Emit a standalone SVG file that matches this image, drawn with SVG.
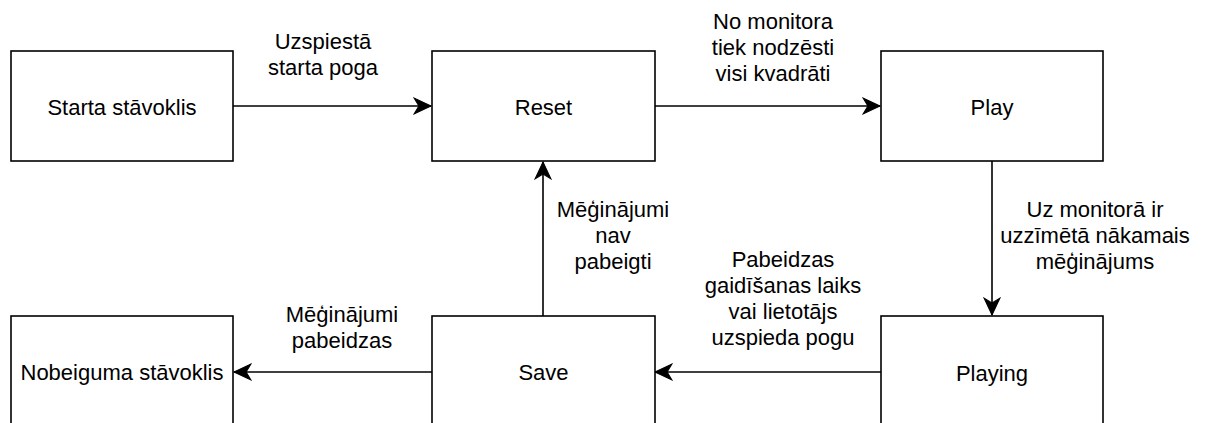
<svg xmlns="http://www.w3.org/2000/svg" width="1208" height="423" viewBox="0 0 1208 423">
<style>
.box{fill:#fff;stroke:#000;stroke-width:1.6}
.lbl{font-family:"Liberation Sans",Arial,sans-serif;font-size:22px;fill:#000;text-anchor:middle}
.edge{fill:none;stroke:#000;stroke-width:1.6}
</style>
<defs>
<marker id="arr" markerUnits="userSpaceOnUse" markerWidth="20" markerHeight="20" viewBox="-17 -9 19 18" refX="0" refY="0" orient="auto">
<path d="M0,0 L-16,-7.5 L-11.5,0 L-16,7.5 Z" fill="#000" stroke="#000" stroke-width="1"/>
</marker>
</defs>
<rect width="1208" height="423" fill="#fff"/>
<g id="connectors">
<path class="edge" d="M233,106 H431" marker-end="url(#arr)"/>
<path class="edge" d="M655,106 H880" marker-end="url(#arr)"/>
<path class="edge" d="M992,161 V315" marker-end="url(#arr)"/>
<path class="edge" d="M881,372 H655" marker-end="url(#arr)"/>
<path class="edge" d="M543,316 V162" marker-end="url(#arr)"/>
<path class="edge" d="M432,372 H234" marker-end="url(#arr)"/>
<text class="lbl" x="323" y="49">Uzspiestā</text>
<text class="lbl" x="323" y="75">starta poga</text>
<text class="lbl" x="773" y="29">No monitora</text>
<text class="lbl" x="773" y="55">tiek nodzēsti</text>
<text class="lbl" x="773" y="81">visi kvadrāti</text>
<text class="lbl" x="1095" y="217">Uz monitorā ir</text>
<text class="lbl" x="1095" y="243">uzzīmētā nākamais</text>
<text class="lbl" x="1095" y="269">mēģinājums</text>
<text class="lbl" x="613" y="217">Mēģinājumi</text>
<text class="lbl" x="613" y="243">nav</text>
<text class="lbl" x="613" y="269">pabeigti</text>
<text class="lbl" x="783" y="267">Pabeidzas</text>
<text class="lbl" x="783" y="293">gaidīšanas laiks</text>
<text class="lbl" x="783" y="319">vai lietotājs</text>
<text class="lbl" x="783" y="345">uzspieda pogu</text>
<text class="lbl" x="342" y="322">Mēģinājumi</text>
<text class="lbl" x="342" y="348">pabeidzas</text>
</g>
<g id="start">
<rect class="box" x="11" y="51" width="222" height="110"/>
<text class="lbl" x="122" y="114.5">Starta stāvoklis</text>
</g>
<g id="reset">
<rect class="box" x="432" y="51" width="223" height="110"/>
<text class="lbl" x="543.5" y="114.5">Reset</text>
</g>
<g id="play">
<rect class="box" x="881" y="51" width="222" height="110"/>
<text class="lbl" x="992" y="114.5">Play</text>
</g>
<g id="end">
<rect class="box" x="11" y="316" width="222" height="110"/>
<text class="lbl" x="122" y="380">Nobeiguma stāvoklis</text>
</g>
<g id="save">
<rect class="box" x="432" y="316" width="223" height="110"/>
<text class="lbl" x="543.5" y="380">Save</text>
</g>
<g id="playing">
<rect class="box" x="881" y="316" width="222" height="110"/>
<text class="lbl" x="992" y="380.5">Playing</text>
</g>
</svg>
